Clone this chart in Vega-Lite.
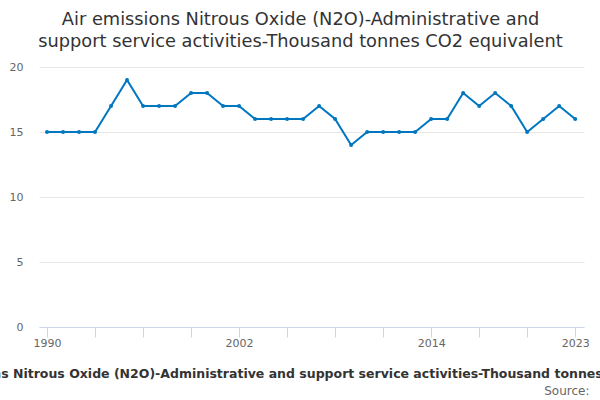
{
  "$schema": "https://vega.github.io/schema/vega-lite/v6.json",
  "width": 545,
  "height": 260,
  "autosize": {"type": "none"},
  "padding": {"left": 39, "top": 67, "right": 16, "bottom": 73},
  "background": "#ffffff",
  "config": {
    "view": {"stroke": null},
    "font": "DejaVu Sans"
  },
  "title": {
    "text": ["Air emissions Nitrous Oxide (N2O)-Administrative and", "support service activities-Thousand tonnes CO2 equivalent"],
    "fontSize": 17.8,
    "fontWeight": "normal",
    "color": "#333333",
    "font": "DejaVu Sans",
    "anchor": "middle",
    "frame": "group",
    "dx": -11,
    "offset": 10,
    "lineHeight": 22
  },
  "data": {
    "values": [
      {"year": 1990, "value": 15}, {"year": 1991, "value": 15}, {"year": 1992, "value": 15}, {"year": 1993, "value": 15},
      {"year": 1994, "value": 17}, {"year": 1995, "value": 19}, {"year": 1996, "value": 17}, {"year": 1997, "value": 17},
      {"year": 1998, "value": 17}, {"year": 1999, "value": 18}, {"year": 2000, "value": 18}, {"year": 2001, "value": 17},
      {"year": 2002, "value": 17}, {"year": 2003, "value": 16}, {"year": 2004, "value": 16}, {"year": 2005, "value": 16},
      {"year": 2006, "value": 16}, {"year": 2007, "value": 17}, {"year": 2008, "value": 16}, {"year": 2009, "value": 14},
      {"year": 2010, "value": 15}, {"year": 2011, "value": 15}, {"year": 2012, "value": 15}, {"year": 2013, "value": 15},
      {"year": 2014, "value": 16}, {"year": 2015, "value": 16}, {"year": 2016, "value": 18}, {"year": 2017, "value": 17},
      {"year": 2018, "value": 18}, {"year": 2019, "value": 17}, {"year": 2020, "value": 15}, {"year": 2021, "value": 16},
      {"year": 2022, "value": 17}, {"year": 2023, "value": 16}
    ]
  },
  "resolve": {"axis": {"x": "independent"}},
  "layer": [
    {
      "mark": {"type": "line", "color": "#0077c0", "strokeWidth": 2},
      "encoding": {
        "x": {
          "field": "year", "type": "quantitative",
          "scale": {"domain": [1989.5, 2023.55], "nice": false, "zero": false},
          "axis": {
            "orient": "bottom",
            "values": [1990, 1993, 1996, 1999, 2002, 2005, 2008, 2011, 2014, 2017, 2020, 2023],
            "labelExpr": "(datum.value == 1990 || datum.value == 2002 || datum.value == 2014 || datum.value == 2023) ? datum.value : ''",
            "grid": false,
            "domainColor": "#ccd6eb",
            "tickColor": "#ccd6eb",
            "tickSize": 10,
            "labelColor": "#666666",
            "labelFontSize": 11,
            "labelPadding": 0,
            "labelFlush": false,
            "labelOverlap": false,
            "title": "Air emissions Nitrous Oxide (N2O)-Administrative and support service activities-Thousand tonnes CO2 equivalent",
            "titleFontSize": 12.5,
            "titleFontWeight": "bold",
            "titleColor": "#333333",
            "titleX": 275,
            "titleY": 46,
            "titleBaseline": "middle"
          }
        },
        "y": {
          "field": "value", "type": "quantitative",
          "scale": {"domain": [0, 20], "nice": false},
          "axis": {
            "values": [0, 5, 10, 15, 20],
            "domain": false,
            "ticks": false,
            "gridColor": "#e6e6e6",
            "labelColor": "#666666",
            "labelFontSize": 11,
            "labelPadding": 16,
            "title": null
          }
        }
      }
    },
    {
      "mark": {"type": "point", "filled": true, "color": "#0077c0", "size": 16, "opacity": 1},
      "encoding": {
        "x": {
          "field": "year", "type": "quantitative",
          "axis": {
            "orient": "bottom",
            "domain": false,
            "ticks": false,
            "labels": false,
            "grid": false,
            "title": "Source:",
            "titleFontSize": 12,
            "titleFontWeight": "normal",
            "titleColor": "#666666",
            "titleAlign": "right",
            "titleBaseline": "middle",
            "titleX": 550,
            "titleY": 63
          }
        },
        "y": {"field": "value", "type": "quantitative"}
      }
    }
  ]
}
